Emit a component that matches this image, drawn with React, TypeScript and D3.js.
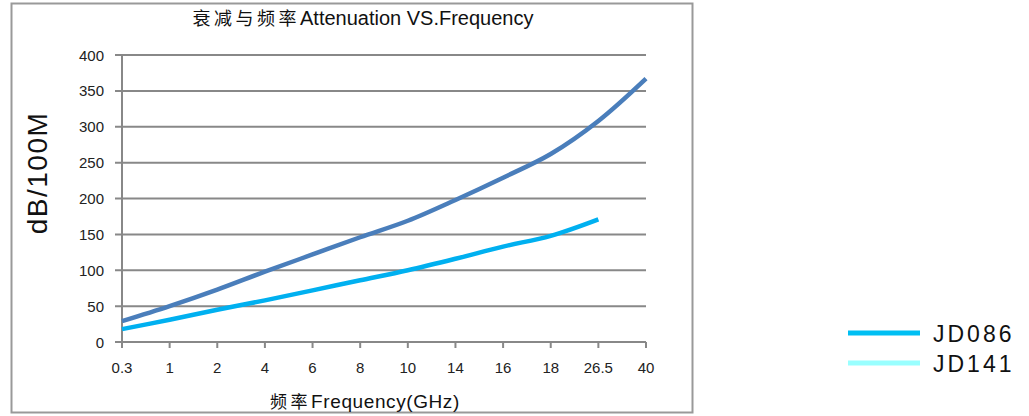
import React from 'react';
import * as d3 from 'd3';

const categories = ["0.3", "1", "2", "4", "6", "8", "10", "14", "16", "18", "26.5", "40"];
const upperSeries = [29, 50, 73, 98, 122, 146, 169, 198, 229, 262, 308, 367];
const lowerSeries = [18, 31, 45, 58, 72, 86, 100, 116, 133, 148, 171];
const yTicks = [0, 50, 100, 150, 200, 250, 300, 350, 400];
const legendItems = [
    { name: "JD086", color: "#00bff3" },
    { name: "JD141", color: "#99ffff" },
];

const W = 1029;
const H = 416;
const latin = "'Liberation Sans', Arial, sans-serif";
const cjk = "'Noto Sans CJK SC', sans-serif";

const App = () => {
    const x = d3.scalePoint<string>()
        .domain(categories)
        .range([122, 646]);

    const y = d3.scaleLinear()
        .domain([0, 400])
        .range([342, 55]);

    const line = d3.line<number>()
        .x((d, i) => x(categories[i]) as number)
        .y(d => y(d))
        .curve(d3.curveCatmullRom.alpha(0.5));

    const gridColor = "#888888";

    return (
        <svg width={W} height={H} style={{ position: "absolute", left: 0, top: 0, background: "#fff" }}>
            {/* chart frame */}
            <rect x={11.5} y={3.5} width={681} height={409} fill="#fff" stroke="#999" strokeWidth={2} />

            {/* title */}
            <text x={363} y={25} textAnchor="middle" fontSize={20} fill="#111">
                <tspan fontFamily={cjk} fontSize={18} letterSpacing={3.5}>衰减与频率</tspan>
                <tspan fontFamily={latin}>Attenuation VS.Frequency</tspan>
            </text>

            {/* gridlines + y ticks */}
            {yTicks.map(t => (
                <g key={t}>
                    <line x1={115} x2={646} y1={y(t)} y2={y(t)} stroke={gridColor} strokeWidth={2} />
                    <text x={104} y={y(t) + 5.5} textAnchor="end" fontSize={15} fontFamily={latin} fill="#222">{t}</text>
                </g>
            ))}

            {/* y axis */}
            <line x1={122} x2={122} y1={y(400)} y2={y(0) + 6} stroke={gridColor} strokeWidth={2} />

            {/* x ticks */}
            {categories.map(c => (
                <g key={c}>
                    <line x1={x(c)} x2={x(c)} y1={y(0)} y2={y(0) + 6} stroke={gridColor} strokeWidth={2} />
                    <text x={x(c)} y={373} textAnchor="middle" fontSize={15} fontFamily={latin} fill="#222">{c}</text>
                </g>
            ))}

            {/* series */}
            <path d={line(upperSeries) || ""} fill="none" stroke="#4a7ebb" strokeWidth={4.5} />
            <path d={line(lowerSeries) || ""} fill="none" stroke="#00b0f0" strokeWidth={4.5} />

            {/* axis titles */}
            <text transform="translate(47,173) rotate(-90)" textAnchor="middle" fontSize={28} fontFamily={latin} letterSpacing={1.5} fill="#111">dB/100M</text>
            <text x={365} y={408} textAnchor="middle" fontSize={19} fill="#111">
                <tspan fontFamily={cjk} fontSize={17} letterSpacing={3.5}>频率</tspan>
                <tspan fontFamily={latin} letterSpacing={0.6}>Frequency(GHz)</tspan>
            </text>

            {/* legend */}
            {legendItems.map((d, i) => (
                <g key={d.name} transform={`translate(0, ${333 + i * 30})`}>
                    <line x1={848} x2={920} y1={0} y2={0} stroke={d.color} strokeWidth={5} />
                    <text x={933} y={9} fontSize={23} fontFamily={latin} letterSpacing={3} fill="#111">{d.name}</text>
                </g>
            ))}
        </svg>
    );
};

export default App;
